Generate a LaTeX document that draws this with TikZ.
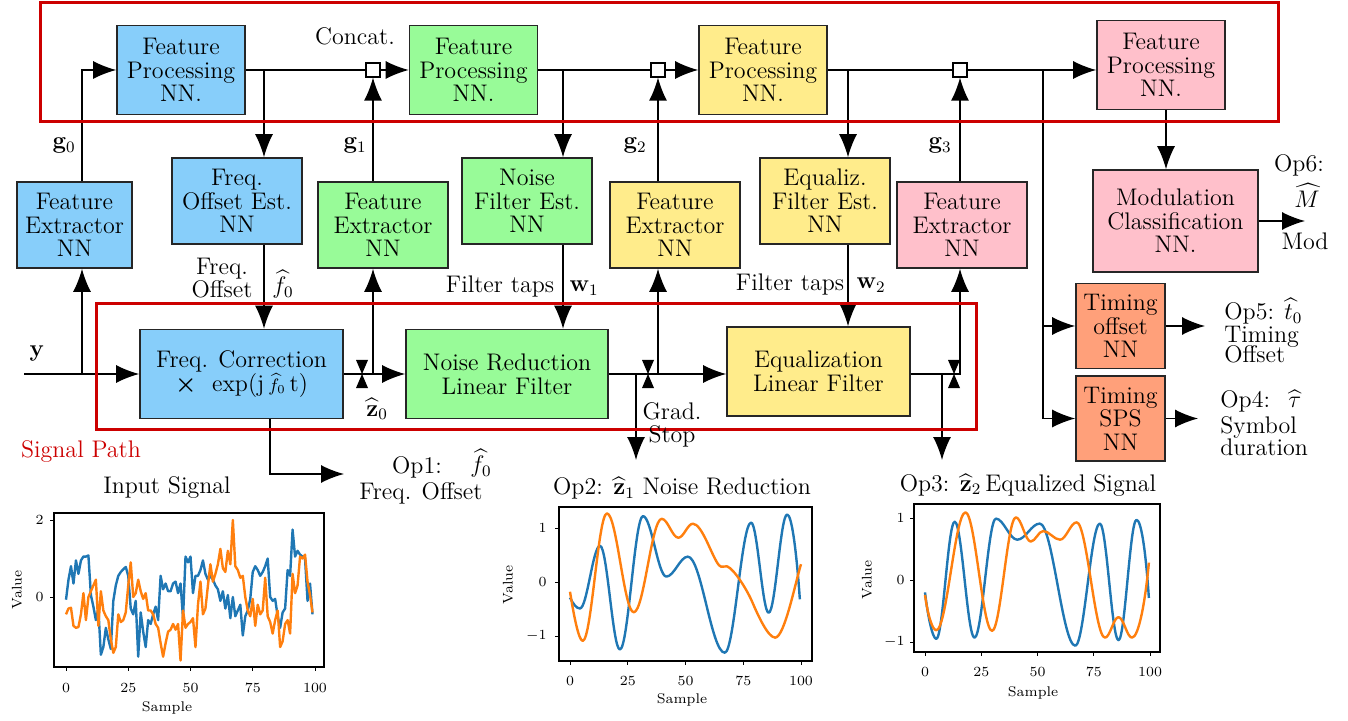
\documentclass[tikz,border=0pt]{standalone}
\usepackage{amsmath}
\usetikzlibrary{arrows.meta,calc}
\definecolor{cblue}{RGB}{135,206,250}
\definecolor{cgreen}{RGB}{152,251,152}
\definecolor{cyellow}{RGB}{255,236,139}
\definecolor{cpink}{RGB}{255,192,203}
\definecolor{csalmon}{RGB}{255,160,122}
\definecolor{cred}{RGB}{204,0,0}
\definecolor{mplblue}{RGB}{31,119,180}
\definecolor{mplorange}{RGB}{255,127,14}
\tikzset{
  gstop/.pic={\fill (-6,-14) -- (6,-14) -- (0,0) -- cycle; \fill (-6,14) -- (6,14) -- (0,0) -- cycle;}
}
\begin{document}
\begin{tikzpicture}[x=0.5pt,y=-0.5pt,
  every node/.style={font=\fontsize{12}{11.8}\selectfont, inner sep=1pt},
  blk/.style={draw=black!85, line width=0.8pt, align=center, inner sep=1pt},
  fpbox/.style={blk, minimum width=64pt, minimum height=44.5pt},
  febox/.style={blk, minimum width=65pt, minimum height=43pt},
  sigbox/.style={blk, minimum height=44.5pt},
  tbox/.style={blk, fill=csalmon, minimum width=44.5pt, minimum height=42.5pt},
  arr/.style={-{Latex[length=11.5pt,width=9pt]}, line width=0.7pt},
  ln/.style={line width=0.7pt},
  frame/.style={draw=cred, line width=1.5pt},
  sq/.style={draw=black, fill=white, line width=0.6pt, minimum size=7pt, inner sep=0pt},
  axf/.style={line width=0.6pt},
  tk/.style={line width=0.5pt},
  tkl/.style={font=\fontsize{7}{8}\selectfont, inner sep=0pt},
  mb/.style={draw=mplblue, line width=1.2pt, line join=round},
  mo/.style={draw=mplorange, line width=1.2pt, line join=round}
]
\useasboundingbox (0,0) rectangle (1348,721);

% ---------------- top row: feature processing
\node[fpbox, fill=cblue]   (FP1) at (181,70)  {Feature\\Processing\\NN.};
\node[fpbox, fill=cgreen]  (FP2) at (473.5,70) {Feature\\Processing\\NN.};
\node[fpbox, fill=cyellow] (FP3) at (763,70)  {Feature\\Processing\\NN.};
\node[fpbox, fill=cpink]   (FP4) at (1161,65) {Feature\\Processing\\NN.};

% ---------------- middle row
\node[blk, fill=cblue, minimum width=57.5pt, minimum height=43pt] (FE1) at (74.5,225) {Feature\\Extractor\\NN};
\node[febox, fill=cblue]   (FOE) at (237,201) {Freq.\\Offset Est.\\NN};
\node[febox, fill=cgreen]  (FE2) at (383,225) {Feature\\Extractor\\NN};
\node[febox, fill=cgreen]  (NFE) at (527,201) {Noise\\Filter Est.\\NN};
\node[febox, fill=cyellow] (FE3) at (675,225) {Feature\\Extractor\\NN};
\node[febox, fill=cyellow] (EFE) at (825,201) {Equaliz.\\Filter Est.\\NN};
\node[febox, fill=cpink]   (FE4) at (962,225) {Feature\\Extractor\\NN};
\node[blk, fill=cpink, minimum width=82.5pt, minimum height=51pt] (MC) at (1175.5,221) {Modulation\\Classification\\NN.};

% ---------------- signal path
\node[sigbox, fill=cblue, minimum width=101.5pt] (FC) at (241.5,374) {Freq. Correction\\{\boldmath$\times$}\ \ exp(j\,{\small$\widehat{f}_0$}\,t)};
\node[sigbox, fill=cgreen, minimum width=101pt] (NR) at (507,374) {Noise Reduction\\Linear Filter};
\node[sigbox, fill=cyellow, minimum width=91.5pt] (EQ) at (818.5,371.5) {Equalization\\Linear Filter};
\node[tbox] (TO) at (1120.5,326) {Timing\\offset\\NN};
\node[tbox] (TS) at (1120.5,418.5) {Timing\\SPS\\NN};

% concat squares
\node[sq] (sq1) at (373,70) {};
\node[sq] (sq2) at (658,70) {};
\node[sq] (sq3) at (960,70) {};

% coordinates
\coordinate (yin) at (24,374);
\coordinate (ja) at (82,374);
\coordinate (jc) at (373,374);
\coordinate (je) at (658,374);
\coordinate (jg) at (960,374);
\coordinate (gd1) at (636,460);
\coordinate (gd2) at (942,460);
\coordinate (xb) at (264,70);
\coordinate (xd) at (563,70);
\coordinate (xf) at (848,70);
\coordinate (jj) at (1043,70);
\coordinate (xm) at (1166,0);
\coordinate (o6) at (1305,221);
\coordinate (o5) at (1205,326);
\coordinate (o4) at (1198,418.5);
\coordinate (o1c) at (270,474);
\coordinate (o1) at (344,474);

% signal line
\draw[arr] (yin) -- (FC.west);
\draw[arr] (ja) -- (ja |- FE1.south);
\draw[arr] (ja |- FE1.north) |- (FP1.west);
\draw[arr] (FC.east) -- (NR.west);
\draw[arr] (jc) -- (jc |- FE2.south);
\draw[arr] (jc |- FE2.north) -- (sq1.south);
\draw[arr] (NR.east) -- (NR.east -| EQ.west);
\draw[arr] (gd1 |- NR.east) -- (gd1);
\draw[arr] (je) -- (je |- FE3.south);
\draw[arr] (je |- FE3.north) -- (sq2.south);
\draw[arr] (EQ.east |- jg) -- (jg) -- (jg |- FE4.south);
\draw[arr] (gd2 |- jg) -- (gd2);
\draw[arr] (jg |- FE4.north) -- (sq3.south);
\draw[arr] (o1c |- FC.south) -- (o1c) -- (o1);
\pic at (362,374) {gstop};
\pic at (648,374) {gstop};
\pic at (954,374) {gstop};

% top feature path
\draw[ln] (FP1.east) -- (sq1.west);
\draw[arr] (sq1.east) -- (FP2.west);
\draw[arr] (xb) -- (xb |- FOE.north);
\draw[arr] (xb |- FOE.south) -- (xb |- FC.north);
\draw[ln] (FP2.east) -- (sq2.west);
\draw[arr] (sq2.east) -- (FP3.west);
\draw[arr] (xd) -- (xd |- NFE.north);
\draw[arr] (xd |- NFE.south) -- (xd |- NR.north);
\draw[ln] (FP3.east) -- (sq3.west);
\draw[arr] (sq3.east) -- (sq3.east -| FP4.west);
\draw[arr] (xf) -- (xf |- EFE.north);
\draw[arr] (xf |- EFE.south) -- (xf |- EQ.north);
\draw[arr] (jj) |- (TS.west);
\draw[arr] (jj |- TO.west) -- (TO.west);
\draw[arr] (xm |- FP4.south) -- (xm |- MC.north);
\draw[arr] (MC.east) -- (o6);
\draw[arr] (TO.east) -- (o5);
\draw[arr] (TS.east) -- (o4);

% frames
\draw[frame] (40,3) rectangle (1278,122);
\draw[frame] (96,304) rectangle (976,429);

% labels
\node (lconcat) at (355,36) {Concat.};
\node (lg0) at (64,146) {$\mathbf{g}_0$};
\node (lg1) at (355,146) {$\mathbf{g}_1$};
\node (lg2) at (635,146) {$\mathbf{g}_2$};
\node (lg3) at (940,146) {$\mathbf{g}_3$};
\node[align=center] (lfo) at (222,278) {Freq.\\Offset};
\node (lf0) at (283,284) {$\widehat{f}_0$};
\node (lft1) at (500,287) {Filter taps};
\node (lw1) at (584,288) {$\mathbf{w}_1$};
\node (lft2) at (790,285) {Filter taps};
\node (lw2) at (871,285) {$\mathbf{w}_2$};
\node (lz0) at (377,409) {$\widehat{\mathbf{z}}_0$};
\node[align=center] (lgs) at (672,425) {Grad.\\Stop};
\node (ly) at (37,354) {$\mathbf{y}$};
\node[text=cred] (lsp) at (81,452) {Signal Path};
\node (lop1) at (417,467) {Op1:};
\node (lop1f) at (481,463) {$\widehat{f}_0$};
\node (lop1t) at (421,493) {Freq. Offset};
\node[anchor=base] (lop6) at (1299,172) {Op6:};
\node[anchor=base] (lop6m) at (1307,208) {$\widehat{M}$};
\node[anchor=base] (lop6t) at (1305,250) {Mod};
\node[anchor=base west] (lop5) at (1222,320) {Op5: $\widehat{t}_0$};
\node[anchor=base west] (lop5a) at (1222,343) {Timing};
\node[anchor=base west] (lop5b) at (1222,363) {Offset};
\node[anchor=base west] (lop4) at (1218,408) {Op4: \ $\widehat{\tau}$};
\node[anchor=base west] (lop4a) at (1218,433) {Symbol};
\node[anchor=base west] (lop4b) at (1218,455) {duration};

% ---------------- plot 1: input signal
\node (t1) at (167,488) {Input Signal};
\begin{scope}[shift={(66,597)}, x=1.245pt, y=19.25pt]
\draw[mb] (0,-0.07) \foreach \v [count=\i] in {0.45,0.8,0.35,0.95,0.6,0.95,1.05,1.05,1.08,0.05,-0.25,-0.6,-0.3,-1.5,-1.3,-0.8,-1.1,-1.35,-0.1,0.3,0.55,0.65,0.72,0.78,0.55,-0.3,-0.45,-0.1,-1.55,-0.4,-0.9,-1.3,-0.6,-0.7,-0.45,-0.25,-0.6,0.55,0.2,0.35,0.15,0.15,0.35,0.4,0.1,0.35,-0.55,1.05,0.9,1.05,0.1,0.55,0.55,0.7,0.95,0.6,0.45,0.55,0.45,0.3,0.2,-0.1,0.15,-0.3,0.05,-0.55,0.0,-0.5,-0.35,-0.2,-1.0,-0.5,-0.35,-0.05,0.65,0.8,0.7,0.55,0.65,0.8,1.0,0.0,-0.1,-0.05,-0.5,-0.8,-0.4,-0.3,0.7,0.55,1.75,1.05,1.2,1.1,1.05,1.0,-0.1,0.35,-0.45} { -- (\i,\v) };
\draw[mo] (0,-0.45) \foreach \v [count=\i] in {-0.3,-0.28,-0.75,-0.8,-0.78,-0.45,0.1,-0.6,0.0,0.15,0.3,0.45,-0.75,0.15,-0.35,-0.5,-0.6,-1.1,-1.45,-1.3,-0.45,-0.65,-0.6,-0.4,0.3,0.9,0.0,0.1,0.45,0.15,-0.05,0.1,-0.35,-0.35,-0.45,-0.7,-0.8,-1.2,-1.55,-1.2,-0.9,-0.85,-0.7,-0.85,-0.7,-1.65,-0.35,-0.8,-0.7,-0.65,-0.55,-1.3,-0.2,0.4,-0.45,-0.3,0.3,0.85,0.4,0.6,0.85,1.25,0.75,0.65,1.2,0.85,2.0,0.8,0.7,0.5,0.55,0.0,-0.35,-0.5,-0.05,-0.75,-0.2,-0.45,-0.35,0.5,-0.5,-0.65,-0.95,-0.6,-0.35,-1.3,-1.15,-0.7,-0.6,-0.95,0.6,0.1,0.3,1.05,1.0,1.1,0.4,0.05,-0.4} { -- (\i,\v) };
\end{scope}
\draw[axf] (54,513) rectangle (324,667);
\foreach \s in {0,25,50,75,100} {
  \draw[tk] ({66+2.49*\s},667) -- ++(0,4);
  \node[tkl, anchor=north] at ({66+2.49*\s},683) {\s};
}
\draw[tk] (54,597) -- ++(-4,0); \node[tkl, anchor=east] at (44,597) {0};
\draw[tk] (54,520) -- ++(-4,0); \node[tkl, anchor=east] at (44,520) {2};
\node[tkl, rotate=90] (v1) at (17,590) {Value};
\node[tkl] (s1) at (167,708) {Sample};

% ---------------- plot 2: noise reduction
\node (t2) at (682,488) {Op2: $\widehat{\mathbf{z}}_1$ Noise Reduction};
\begin{scope}[shift={(570,582)}, x=1.155pt, y=27pt]
\draw[mb] (0,-0.29) .. controls +(1.4,-0.12) and +(-1.5,0) .. (4.3,-0.49)
 .. controls +(3.1,0) and +(-3.1,0) .. (13,0.67)
 .. controls +(3.1,0) and +(-3.1,0) .. (21.6,-1.25)
 .. controls +(3.6,0) and +(-3.6,0) .. (31.6,1.22)
 .. controls +(3.6,0) and +(-3.6,0) .. (41.7,0.1)
 .. controls +(3.3,0) and +(-3.3,0) .. (51,0.47)
 .. controls +(5.8,0) and +(-5.8,0) .. (67,-1.31)
 .. controls +(4.1,0) and +(-4.1,0) .. (78.4,1.1)
 .. controls +(2.7,0) and +(-2.7,0) .. (86,-0.57)
 .. controls +(2.9,0) and +(-2.9,0) .. (94,1.25)
 .. controls +(2,0) and +(-1.5,0.9) .. (99.5,-0.32);
\draw[mo] (0,-0.18) .. controls +(1.5,-0.4) and +(-1.8,0) .. (5.5,-1.09)
 .. controls +(3.8,0) and +(-3.8,0) .. (16,1.27)
 .. controls +(4.2,0) and +(-4.2,0) .. (27.6,-0.56)
 .. controls +(4.4,0) and +(-4.4,0) .. (39.7,1.17)
 .. controls +(2.6,0) and +(-2.6,0) .. (46.9,0.82)
 .. controls +(2.3,0) and +(-2.3,0) .. (53.2,1.08)
 .. controls +(4,0) and +(-3,0.15) .. (64.5,0.31)
 .. controls +(1.2,-0.06) and +(-1.2,0.02) .. (68,0.29)
 .. controls +(3,-0.05) and +(-2.5,0.25) .. (79,-0.38)
 .. controls +(2.5,-0.25) and +(-3,0) .. (88.8,-1.03)
 .. controls +(4,0) and +(-2.5,-0.35) .. (100,0.33);
\end{scope}
\draw[axf] (559,507) rectangle (812,661);
\foreach \s in {0,25,50,75,100} {
  \draw[tk] ({570+2.31*\s},661) -- ++(0,4);
  \node[tkl, anchor=north] at ({570+2.31*\s},676) {\s};
}
\draw[tk] (559,528) -- ++(-4,0); \node[tkl, anchor=east] at (547,528) {1};
\draw[tk] (559,582) -- ++(-4,0); \node[tkl, anchor=east] at (547,582) {0};
\draw[tk] (559,636) -- ++(-4,0); \node[tkl, anchor=east] at (547,636) {$-1$};
\node[tkl, rotate=90] (v2) at (508,585) {Value};
\node[tkl] (s2) at (682,700) {Sample};

% ---------------- plot 3: equalized
\node (t3) at (1028,485) {Op3: $\widehat{\mathbf{z}}_2$\,Equalized Signal};
\begin{scope}[shift={(925,580)}, x=1.125pt, y=31pt]
\draw[mb] (0,-0.2) .. controls +(1.3,-0.4) and +(-1.6,0) .. (5,-0.95)
 .. controls +(3,0) and +(-3,0) .. (13.2,0.94)
 .. controls +(3.2,0) and +(-3.2,0) .. (22,-0.93)
 .. controls +(3.4,0) and +(-3.4,0) .. (31.5,0.99)
 .. controls +(3.4,0) and +(-3.4,0) .. (41,0.65)
 .. controls +(3.6,0) and +(-3.6,0) .. (51,0.91)
 .. controls +(5.7,0) and +(-5.7,0) .. (66.8,-1.06)
 .. controls +(3.9,0) and +(-3.9,0) .. (77.7,0.91)
 .. controls +(3,0) and +(-3,0) .. (86,-0.97)
 .. controls +(2.9,0) and +(-2.9,0) .. (94,0.97)
 .. controls +(2,0) and +(-1.5,0.8) .. (99.5,-0.29);
\draw[mo] (0,-0.24) .. controls +(1.3,-0.35) and +(-1.6,0) .. (5,-0.81)
 .. controls +(4.7,0) and +(-4.7,0) .. (18,1.09)
 .. controls +(4.2,0) and +(-4.2,0) .. (29.8,-0.82)
 .. controls +(3.8,0) and +(-3.8,0) .. (40.4,1.01)
 .. controls +(2.4,0) and +(-2.4,0) .. (47,0.62)
 .. controls +(2,0) and +(-2,0) .. (52.5,0.79)
 .. controls +(2.7,0) and +(-2.7,0) .. (60,0.65)
 .. controls +(2.7,0) and +(-2.7,0) .. (67.4,0.93)
 .. controls +(4.5,0) and +(-4.5,0) .. (80,-0.93)
 .. controls +(2.2,0) and +(-2.2,0) .. (86,-0.6)
 .. controls +(2.2,0) and +(-2.2,0) .. (92,-0.93)
 .. controls +(3,0) and +(-1.5,-0.6) .. (99.5,0.28);
\end{scope}
\draw[axf] (914,504) rectangle (1160,652);
\foreach \s in {0,25,50,75,100} {
  \draw[tk] ({925+2.25*\s},652) -- ++(0,4);
  \node[tkl, anchor=north] at ({925+2.25*\s},667) {\s};
}
\draw[tk] (914,518) -- ++(-4,0); \node[tkl, anchor=east] at (905,518) {1};
\draw[tk] (914,580) -- ++(-4,0); \node[tkl, anchor=east] at (905,580) {0};
\draw[tk] (914,642) -- ++(-4,0); \node[tkl, anchor=east] at (905,642) {$-1$};
\node[tkl, rotate=90] (v3) at (867,580) {Value};
\node[tkl] (s3) at (1033,693) {Sample};
\end{tikzpicture}
\end{document}
